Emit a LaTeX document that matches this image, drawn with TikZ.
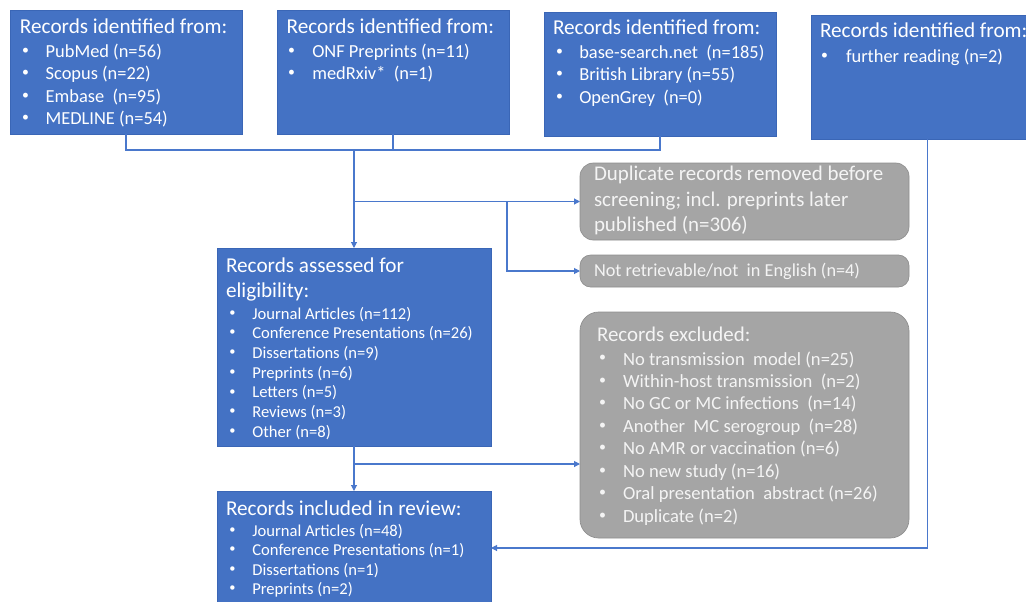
\documentclass[tikz,border=0pt]{standalone}
\usepackage{fontspec}
\setmainfont{Carlito}
\usetikzlibrary{arrows.meta}
\definecolor{obl}{HTML}{4472C4}
\definecolor{obd}{HTML}{3A66B6}
\definecolor{gfill}{HTML}{A5A5A5}
\definecolor{gbord}{HTML}{8E8E8E}
\definecolor{gtxt}{HTML}{F4F4F4}
\definecolor{lnc}{HTML}{4A78CC}
% box: style, name, x1, y1, x2, y2 (px, y downwards)
\newcommand\rbox[6]{\node[#1, anchor=north west, minimum width={(#5-#3)*0.75pt}, minimum height={(#6-#4)*0.75pt}] (#2) at (#3,#4) {};}
\newcommand\smallbullet{\raisebox{0.35ex}{\scalebox{0.75}{\textbullet}}}
% bullet list: name, style, x bullet, x text, first baseline, spacing, items
\newcommand\blist[7]{%
  \foreach \t [count=\i] in {#7}{%
    \node[#2] (#1d\i) at (#3,{#5+(\i-1)*#6}) {\smallbullet};
    \node[#2] (#1t\i) at (#4,{#5+(\i-1)*#6}) {\t};
  }}
\begin{document}
\begin{tikzpicture}[x=0.75pt,y=-0.75pt,
  bluebox/.style={draw=obd, line width=0.5pt, fill=obl, inner sep=0pt, outer sep=0pt},
  graybox/.style={draw=gbord, line width=0.5pt, fill=gfill, rounded corners=#1, inner sep=0pt, outer sep=0pt},
  txt/.style={anchor=base west, inner sep=0pt, outer sep=0pt, text=white},
  gtx/.style={anchor=base west, inner sep=0pt, outer sep=0pt, text=gtxt},
  hd/.style={txt, font=\fontsize{15.9}{18}\selectfont},
  btop/.style={txt, font=\fontsize{13.8}{16}\selectfont},
  bmid/.style={txt, font=\fontsize{12.45}{15}\selectfont},
  ghd/.style={gtx, font=\fontsize{15.7}{18}\selectfont},
  gsm/.style={gtx, font=\fontsize{13.7}{16}\selectfont},
  gbl/.style={gtx, font=\fontsize{13.95}{16}\selectfont},
  ln/.style={draw=lnc, line width=0.8pt},
  arr/.style={ln, -{Triangle[length=4.5pt,width=4.5pt]}}
]
\clip (0,0) rectangle (1026,601);
\fill[white] (0,0) rectangle (1026,601);

% ---- boxes ----
\rbox{bluebox}{s1}{10}{10}{242}{134}
\rbox{bluebox}{s2}{277}{10}{509}{134}
\rbox{bluebox}{s3}{544}{12}{776}{136}
\rbox{bluebox}{s4}{811}{15}{1044}{139}
\rbox{graybox=10pt}{dup}{580}{163}{909}{240}
\rbox{graybox=8pt}{notr}{580}{255}{909}{287}
\rbox{bluebox}{ass}{217}{248}{491}{446}
\rbox{graybox=14pt}{exc}{580}{312}{909}{538}
\rbox{bluebox}{inc}{217}{491}{491}{620}

% ---- texts ----
\node[hd] (s1h) at (20,33.3) {Records identified from:};
\blist{s1}{btop}{22}{45.7}{57.5}{22.4}{PubMed (n=56),Scopus (n=22),Embase\ \ (n=95),MEDLINE (n=54)}
\node[hd] (s2h) at (286.7,33.3) {Records identified from:};
\blist{s2}{btop}{288}{312.3}{57.5}{22.4}{ONF Preprints (n=11),medRxiv*\ \ (n=1)}
\node[hd] (s3h) at (553,34.5) {Records identified from:};
\blist{s3}{btop}{556}{579.3}{58.3}{22.5}{base-search.net\ \ (n=185),British Library (n=55),OpenGrey\ \ (n=0)}
\node[hd] (s4h) at (820,37.3) {Records identified from:};
\blist{s4}{btop}{821}{846}{62.3}{22.5}{further reading (n=2)}

\node[ghd] (dup1) at (594,180.7) {Duplicate records removed before};
\node[ghd] (dup2) at (594,206.2) {screening; incl. preprints later};
\node[ghd] (dup3) at (594,231.7) {published (n=306)};
\node[gsm] (notr1) at (594,276.7) {Not retrievable/not\ \ in English (n=4)};

\node[hd] (ass1) at (226,272.3) {Records assessed for};
\node[hd] (ass2) at (226,297.3) {eligibility:};
\blist{ass}{bmid}{229.3}{252.3}{319}{19.7}{Journal Articles (n=112),Conference Presentations (n=26),Dissertations (n=9),Preprints (n=6),Letters (n=5),Reviews (n=3),Other (n=8)}

\node[hd] (inc1) at (226,515) {Records included in review:};
\blist{inc}{bmid}{229.3}{252.3}{536}{19.5}{Journal Articles (n=48),Conference Presentations (n=1),Dissertations (n=1),Preprints (n=2)}

\node[ghd] (exc1) at (597,341) {Records excluded:};
\blist{exc}{gbl}{599}{623}{365}{22.45}{No transmission\ \ model (n=25),Within-host transmission\ \ (n=2),No GC or MC infections\ \ (n=14),Another\ \ MC serogroup\ \ (n=28),No AMR or vaccination (n=6),No new study (n=16),Oral presentation\ \ abstract (n=26),Duplicate (n=2)}

% ---- connectors ----
\coordinate (j0) at (354,150);
\draw[ln] (s1.south) -- (s1.south |- j0) -- (s3.south |- j0) -- (s3.south);
\draw[ln] (s2.south) -- (s2.south |- j0);
\draw[arr] (j0) -- (ass.north);
\coordinate (j2) at (354,201.5);
\draw[arr] (j2) -- (dup.west);
\coordinate (j3) at (507,201.5);
\draw[arr] (j3) |- (notr.west);
\draw[arr] (ass.south) -- (inc.north);
\coordinate (j4) at (354,464);
\draw[arr] (j4) -- (j4 -| exc.west);
\coordinate (j5) at (927.5,548);
\draw[arr] (s4.south) -- (j5) -- (j5 -| inc.east);
\end{tikzpicture}
\end{document}
